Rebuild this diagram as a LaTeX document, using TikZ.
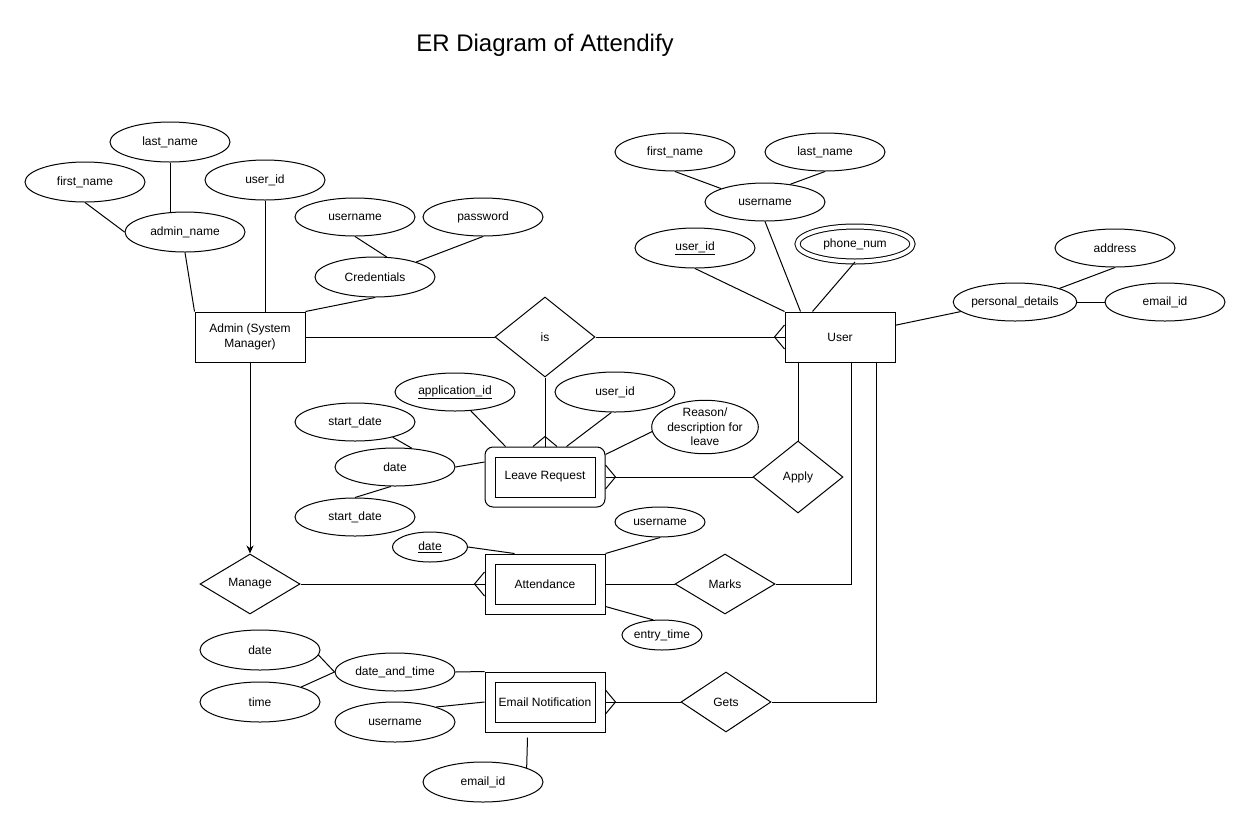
\documentclass[tikz,border=0pt]{standalone}
\usepackage{fontspec}
\setmainfont{Liberation Sans}
\usetikzlibrary{shapes.geometric,arrows.meta}
\begin{document}
\begin{tikzpicture}[x=1pt,y=-1pt,line width=1pt,font=\fontsize{12}{14.5}\selectfont,
        attr/.style={ellipse,draw,inner sep=0pt,minimum width=120pt,minimum height=40pt},
        entity/.style={rectangle,draw,inner sep=0pt,minimum width=110pt,minimum height=50pt,align=center},
        weakin/.style={rectangle,draw,inner sep=0pt,minimum width=100pt,minimum height=40pt},
        weakout/.style={rectangle,draw,inner sep=0pt,minimum width=120pt,minimum height=60pt},
        rel/.style={diamond,draw,inner sep=0pt,minimum width=100pt,minimum height=60pt}]
        \useasboundingbox (0,0) rectangle (1251,828);
        \node (title) at (545,45) {\fontsize{24}{28}\selectfont ER Diagram of Attendify};
        % admin
        \node[entity] (admin) at (250,337) {Admin (System\\Manager)};
        \node[attr] (afirst) at (85,182) {first\_name};
        \node[attr] (alast) at (170,142) {last\_name};
        \node[attr] (aname) at (185,232) {admin\_name};
        \node[attr] (auid) at (265,180) {user\_id};
        \node[attr,minimum height=38pt] (cuser) at (355,217) {username};
        \node[attr,minimum height=38pt] (cpass) at (483,217) {password};
        \node[attr] (cred) at (375,277) {Credentials};
        \node[rel,minimum height=80pt] (isrel) at (545,337) {is};
        % user
        \node[entity] (user) at (840,337) {User};
        \node[attr,minimum height=38pt] (ufirst) at (675,152) {first\_name};
        \node[attr,minimum height=38pt] (ulast) at (825,152) {last\_name};
        \node[attr,minimum height=38pt] (uname) at (765,202) {username};
        \node[attr] (uid) at (695,248) {\underline{user\_id}};
        \node[attr,minimum width=115pt,minimum height=35pt,double,double distance=4pt] (phone) at (855,244) {phone\_num};
        \node[attr,minimum height=38pt] (pdet) at (1015,302) {personal\_details};
        \node[attr,minimum height=38pt] (paddr) at (1115,248) {address};
        \node[attr,minimum height=38pt] (pemail) at (1165,302) {email\_id};
        % leave request
        \node[weakin] (leave) at (545,477) {Leave Request};
        \node[weakout,rounded corners=8pt] (leaveout) at (545,477) {};
        \node[attr,minimum height=38pt] (appid) at (455,392) {\underline{application\_id}};
        \node[attr] (lruid) at (615,392) {user\_id};
        \node[attr,minimum width=100pt,minimum height=50pt,align=center] (reason) at (705,427) {Reason/\\description for\\leave};
        \node[attr,minimum height=38pt] (lstart1) at (355,422) {start\_date};
        \node[attr,minimum height=38pt] (ldate) at (395,467) {date};
        \node[attr,minimum height=38pt] (lstart2) at (355,517) {start\_date};
        \node[rel,minimum width=90pt,minimum height=72pt] (apply) at (798,477) {Apply};
        % attendance
        \node[weakin] (attend) at (545,584) {Attendance};
        \node[weakout] (attout) at (545,584) {};
        \node[attr,minimum width=75pt,minimum height=30pt] (adate) at (430,547) {\underline{date}};
        \node[attr,minimum width=90pt,minimum height=30pt] (ausername) at (660,522) {username};
        \node[attr,minimum width=80pt,minimum height=30pt] (aentry) at (662,635) {entry\_time};
        \node[rel] (manage) at (250,584) {Manage};
        \node[rel] (marks) at (725,584) {Marks};
        % email notification
        \node[weakin] (email) at (545,702) {Email Notification};
        \node[weakout] (eout) at (545,702) {};
        \node[attr,minimum height=38pt] (edt) at (395,672) {date\_and\_time};
        \node[attr] (edate) at (260,650) {date};
        \node[attr] (etime) at (260,702) {time};
        \node[attr] (eusername) at (395,722) {username};
        \node[attr] (eemail) at (483,782) {email\_id};
        \node[rel,minimum width=90pt] (gets) at (726,702) {Gets};

        \draw (afirst.south) -- (aname.west);
        \draw (alast.south) -- (alast.south |- aname.north);
        \draw (aname.south) -- (admin.north west);
        \draw (auid.south) -- (auid.south |- admin.north);
        \draw (cuser.south) -- (cred.60);
        \draw (cpass.south) -- (cred.20);
        \draw (cred.south) -- (admin.north east);
        \draw (admin.east) -- (isrel.west);
        \draw (isrel.east) -- (user.west);
        \draw (isrel.south) -- (leaveout.north);
        \draw (ufirst.south) -- (uname.163);
        \draw (ulast.south) -- (uname.35);
        \draw (uname.south) -- ([xshift=16pt]user.north west);
        \draw (uid.south) -- (user.north west);
        \draw (phone.south) -- ([xshift=28pt]user.north west);
        \draw (user.12) -- (pdet.190);
        \draw (paddr.south) -- (pdet.17);
        \draw (pdet.east) -- (pemail.west);
        \draw (apply.north) -- (apply.north |- user.south);
        \draw (leaveout.east) -- (apply.west);
        \draw (appid.310) -- ([xshift=21pt]leaveout.north west);
        \draw (lruid.260) -- ([xshift=82pt]leaveout.north west);
        \draw (reason.185) -- ([yshift=-8pt]leaveout.north east);
        \draw (lstart1.-22) -- (ldate.48);
        \draw (ldate.east) -- ([yshift=15pt]leaveout.west);
        \draw (lstart2.north) -- (ldate.258);
        \draw[-{Stealth[length=8pt,width=7pt]}] (admin.south) -- (manage.north);
        \draw (manage.east) -- (attout.west);
        \draw (attout.east) -- (marks.west);
        \draw (marks.east) -| ([xshift=11pt]user.south);
        \draw (adate.east) -- ([xshift=30pt]attout.north west);
        \draw (ausername.south) -- (attout.north east);
        \draw ([yshift=8pt]attout.south east) -- (aentry.120);
        \draw (eout.east) -- (gets.west);
        \draw (gets.east) -| ([xshift=36pt]user.south);
        \draw (edt.east) -- (eout.north west);
        \draw (edate.-5) -- (edt.west);
        \draw (etime.20) -- (edt.west);
        \draw (eusername.20) -- (eout.west);
        \draw (eemail.18) -- ([xshift=43pt,yshift=-5pt]eout.south west);
        \foreach \p/\a in {user.west/180, leaveout.north/270, leaveout.east/0, attout.west/180, eout.east/0}{
            \draw ([shift={(\a:10)}]\p) -- ([shift={(\a+90:12)}]\p)
                  ([shift={(\a:10)}]\p) -- ([shift={(\a-90:12)}]\p);
        }
    \end{tikzpicture}
\end{document}
